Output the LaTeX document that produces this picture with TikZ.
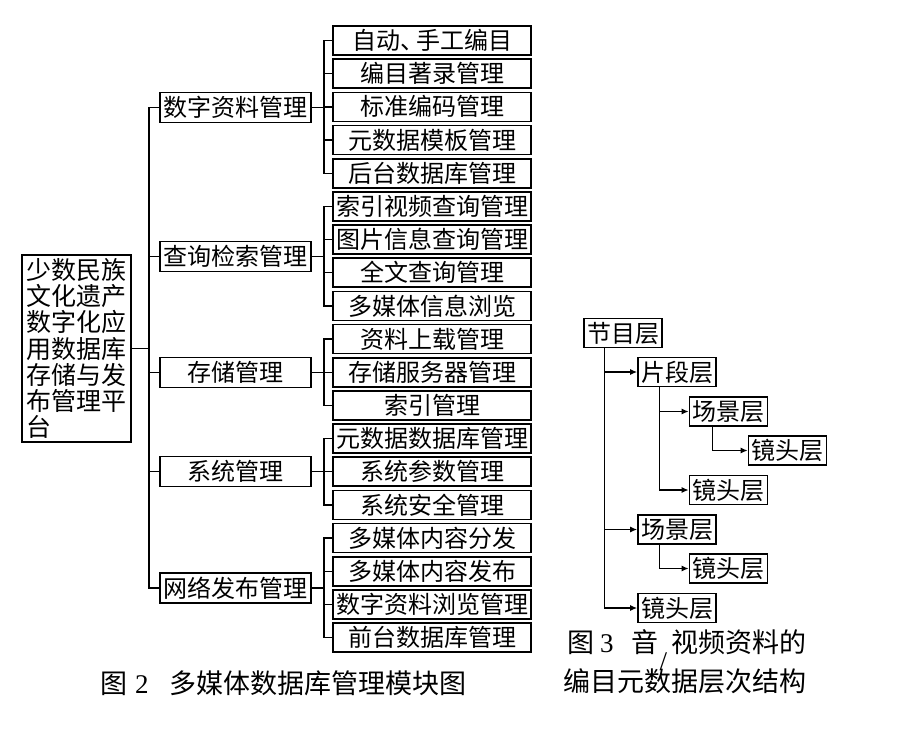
\documentclass[tikz,border=0pt]{standalone}
\usepackage{fontspec}
\setmainfont{Liberation Serif}
\newfontfamily\cjk{Noto Sans CJK SC}
\usetikzlibrary{arrows.meta}
\begin{document}
\begin{tikzpicture}[x=1pt,y=-1pt,
  box/.style={draw, line width=1.6pt, inner sep=0pt, font=\cjk\fontsize{24}{26}\selectfont},
  lvone/.style={box, minimum width=151pt, minimum height=30pt},
  lvtwo/.style={box, minimum width=198pt, minimum height=29pt},
  layer/.style={box, minimum width=78pt, minimum height=29pt},
  link/.style={line width=1.4pt},
  arr/.style={link, -{Latex[length=7pt,width=6pt]}},
  captext/.style={inner sep=0pt, font=\cjk\fontsize{27}{29}\selectfont}]
\useasboundingbox (0,0) rectangle (901,745);

% root
\node[box, minimum width=109pt, minimum height=187pt, text width=101pt, align=left,
      inner xsep=3pt, font=\cjk\fontsize{25}{26.3}\selectfont] (root) at (76.5,348.5)
  {少数民族\\文化遗产\\数字化应\\用数据库\\存储与发\\布管理平\\台};

% level one
\node[lvone] (a) at (235.5,107.5) {数字资料管理};
\node[lvone] (b) at (235.5,256.5) {查询检索管理};
\node[lvone] (c) at (235.5,372.5) {存储管理};
\node[lvone] (d) at (235.5,471.5) {系统管理};
\node[lvone] (e) at (235.5,588) {网络发布管理};

% level two
\node[lvtwo] (a1) at (432,40.5) {自动、\hspace{-8pt}手工编目};
\node[lvtwo] (a2) at (432,73.7) {编目著录管理};
\node[lvtwo] (a3) at (432,106.8) {标准编码管理};
\node[lvtwo] (a4) at (432,140) {元数据模板管理};
\node[lvtwo] (a5) at (432,173.2) {后台数据库管理};
\node[lvtwo] (b1) at (432,206.4) {索引视频查询管理};
\node[lvtwo] (b2) at (432,239.5) {图片信息查询管理};
\node[lvtwo] (b3) at (432,272.7) {全文查询管理};
\node[lvtwo] (b4) at (432,305.9) {多媒体信息浏览};
\node[lvtwo] (c1) at (432,339) {资料上载管理};
\node[lvtwo] (c2) at (432,372.2) {存储服务器管理};
\node[lvtwo] (c3) at (432,405.4) {索引管理};
\node[lvtwo] (d1) at (432,438.5) {元数据数据库管理};
\node[lvtwo] (d2) at (432,471.7) {系统参数管理};
\node[lvtwo] (d3) at (432,504.9) {系统安全管理};
\node[lvtwo] (e1) at (432,538.1) {多媒体内容分发};
\node[lvtwo] (e2) at (432,571.2) {多媒体内容发布};
\node[lvtwo] (e3) at (432,604.4) {数字资料浏览管理};
\node[lvtwo] (e4) at (432,637.6) {前台数据库管理};

% trunk
\coordinate (t) at (149,348.5);
\draw[link] (root.east) -- (t);
\foreach \n in {a,b,c,d,e} \draw[link] (t) |- (\n.west);

% brackets
\foreach \p/\kids in {a/{a1,a2,a3,a4,a5}, b/{b1,b2,b3,b4}, c/{c1,c2,c3}, d/{d1,d2,d3}, e/{e1,e2,e3,e4}}{
  \path ([xshift=12pt]\p.east) coordinate (j\p);
  \draw[link] (\p.east) -- (j\p);
  \foreach \k in \kids \draw[link] (j\p) |- (\k.west);
}

% right tree
\node[layer] (jm) at (623,333) {节目层};
\node[layer] (pd) at (677,372) {片段层};
\node[layer] (cj1) at (728.5,411.5) {场景层};
\node[layer] (jt1) at (787.5,450.5) {镜头层};
\node[layer] (jt2) at (728.5,490) {镜头层};
\node[layer] (cj2) at (677,529.5) {场景层};
\node[layer] (jt3) at (728.5,568.5) {镜头层};
\node[layer] (jt4) at (677,608) {镜头层};

\draw[arr] ([xshift=21pt]jm.south west) |- (pd.west);
\draw[arr] ([xshift=21pt]jm.south west) |- (cj2.west);
\draw[arr] ([xshift=21pt]jm.south west) |- (jt4.west);
\draw[arr] ([xshift=22pt]pd.south west) |- (cj1.west);
\draw[arr] ([xshift=22pt]pd.south west) |- (jt2.west);
\draw[arr] ([xshift=24pt]cj1.south west) |- (jt1.west);
\draw[arr] ([xshift=22pt]cj2.south west) |- (jt3.west);

% captions
\node[captext, anchor=west] (cap2) at (100,683)
  {图\hspace{8pt}{\rmfamily 2}\hspace{21pt}多媒体数据库管理模块图};
\node[captext, anchor=west] (cap3a) at (567,650)
  {图\hspace{6pt}{\rmfamily 3}\hspace{18pt}音\hspace{1pt}\raisebox{-18pt}{\rmfamily /}\hspace{4pt}视频资料的};
\node[captext, anchor=west] (cap3b) at (563,681) {编目元数据层次结构};
\end{tikzpicture}
\end{document}
